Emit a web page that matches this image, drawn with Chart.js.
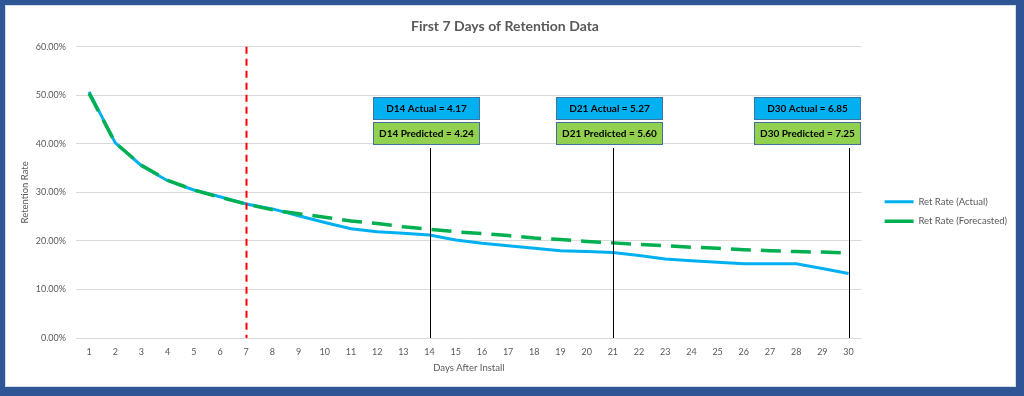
<!DOCTYPE html>
<html>
<head>
<meta charset="utf-8">
<script src="https://cdn.jsdelivr.net/npm/chart.js@4.4.1/dist/chart.umd.min.js"></script>
<style>
  html, body { margin: 0; padding: 0; }
  body { width: 1024px; height: 396px; background: #2F5597; position: relative; overflow: hidden; }
  #frame {
    position: absolute; left: 5px; top: 5px; width: 1011px; height: 382px;
    box-sizing: border-box; border: 1px solid #D6DCE5; background: #fff;
  }
  #myChart { display: block; }
</style>
</head>
<body>
<div id="frame"><canvas id="myChart" width="1009" height="380"></canvas></div>
<script>
// x axis: days after install
const days = Array.from({ length: 30 }, (_, i) => String(i + 1));

// retention in percent
const actualRate = [50.7, 40.2, 35.5, 32.4, 30.5, 29.1, 27.6, 26.6, 25.2, 23.8, 22.5, 21.9, 21.6, 21.2, 20.2, 19.5, 19.0, 18.5, 18.0, 17.8, 17.6, 17.0, 16.3, 15.9, 15.6, 15.3, 15.3, 15.3, 14.3, 13.3];
const forecastRate = [50.4, 40.2, 35.6, 32.5, 30.5, 29.0, 27.6, 26.4, 25.6, 24.9, 24.1, 23.6, 22.9, 22.4, 21.9, 21.5, 21.1, 20.6, 20.3, 19.9, 19.6, 19.3, 19.0, 18.7, 18.5, 18.2, 18.0, 17.8, 17.7, 17.5];

// y ticks
const yMax = 60;
const yStep = 10;

// markers
const cutoffDay = "7";
const markerDays = ["14", "21", "30"];
const actualNotes = ["D14 Actual = 4.17", "D21 Actual = 5.27", "D30 Actual = 6.85"];
const predictedNotes = ["D14 Predicted = 4.24", "D21 Predicted = 5.60", "D30 Predicted = 7.25"];

const FONT = "Lato, 'Open Sans', sans-serif";
const GREY = "#595959";

const markers = {
  id: "markers",
  afterLayout(chart) {
    // nudge legend to sit like the excel one (legend clips to its own box)
    const lg = chart.legend;
    lg.left += 13;
    lg.right += 13;
    lg.top += 31;
  },
  afterDatasetsDraw(chart) {
    const { ctx, chartArea } = chart;
    const x = chart.scales.x;
    const y = chart.scales.y;
    ctx.save();

    // cutoff line
    const cx = Math.round(x.getPixelForValue(days.indexOf(cutoffDay))) + 0.5;
    ctx.strokeStyle = "#FF0000";
    ctx.lineWidth = 2;
    ctx.setLineDash([7, 5]);
    ctx.beginPath();
    ctx.moveTo(cx, chartArea.top);
    ctx.lineTo(cx, chartArea.bottom);
    ctx.stroke();
    ctx.setLineDash([]);

    const boxW = 107, boxH = 23, gap = 2;
    const boxTop = Math.round(y.getPixelForValue(49.7));

    markerDays.forEach((d, i) => {
      const px = Math.round(x.getPixelForValue(days.indexOf(d))) + 0.5;
      let left = Math.round(px - 4 - boxW / 2);
      if (left + boxW > chartArea.right - 1) left = Math.round(chartArea.right - 1 - boxW);

      // drop line
      ctx.strokeStyle = "#000";
      ctx.lineWidth = 1;
      ctx.beginPath();
      ctx.moveTo(px, boxTop + 2 * boxH + gap + 3);
      ctx.lineTo(px, chartArea.bottom);
      ctx.stroke();

      const boxes = [
        [boxTop, "#00B0F0", actualNotes[i]],
        [boxTop + boxH + gap, "#92D050", predictedNotes[i]],
      ];
      boxes.forEach(([top, fill, txt]) => {
        ctx.fillStyle = fill;
        ctx.fillRect(left, top, boxW, boxH);
        ctx.strokeStyle = "#41719C";
        ctx.lineWidth = 1;
        ctx.strokeRect(left + 0.5, top + 0.5, boxW - 1, boxH - 1);
        ctx.fillStyle = "#000";
        ctx.font = "bold 10px " + FONT;
        ctx.textAlign = "center";
        ctx.textBaseline = "middle";
        ctx.fillText(txt, left + boxW / 2, top + boxH / 2 + 0.5);
      });
    });
    ctx.restore();
  },
};

const chart = new Chart(document.getElementById("myChart").getContext("2d"), {
  type: "line",
  data: {
    labels: days,
    datasets: [
      {
        label: "Ret Rate (Actual)",
        data: actualRate,
        borderColor: "#00B0F0",
        backgroundColor: "#00B0F0",
        borderWidth: 3,
        pointRadius: 0,
        tension: 0,
        order: 2,
      },
      {
        label: "Ret Rate (Forecasted)",
        data: forecastRate,
        borderColor: "#00B050",
        backgroundColor: "#00B050",
        borderWidth: 3.5,
        borderDash: [20, 10],
        pointRadius: 0,
        tension: 0,
        order: 1,
      },
    ],
  },
  options: {
    responsive: false,
    animation: false,
    layout: { padding: { left: 0, top: 0, bottom: 0, right: 11 } },
    plugins: {
      title: {
        display: true,
        text: "First 7 Days of Retention Data",
        color: GREY,
        font: { family: FONT, size: 14, weight: "bold" },
        padding: { top: 12, bottom: 12 },
      },
      legend: {
        position: "right",
        labels: {
          color: GREY,
          font: { family: FONT, size: 9.5 },
          usePointStyle: true,
          pointStyle: "line",
          pointStyleWidth: 29,
          padding: 10,
          sort: (a, b) => a.datasetIndex - b.datasetIndex,
        },
      },
      tooltip: { enabled: false },
    },
    scales: {
      x: {
        type: "category",
        offset: true,
        grid: { display: false },
        border: { display: false },
        ticks: { color: GREY, font: { family: FONT, size: 9 }, padding: 1, maxRotation: 0, autoSkip: false },
        title: {
          display: true,
          text: "Days After Install",
          color: GREY,
          font: { family: FONT, size: 9.5 },
          padding: { top: 0, bottom: 12 },
        },
        afterFit: (axis) => { axis.height = 48; },
      },
      y: {
        min: 0,
        max: yMax,
        grid: { color: "#D9D9D9", drawTicks: false },
        border: { display: false },
        ticks: {
          stepSize: yStep,
          color: GREY,
          font: { family: FONT, size: 9 },
          padding: 10,
          callback: (v) => v.toFixed(2) + "%",
        },
        title: {
          display: true,
          text: "Retention Rate",
          color: GREY,
          font: { family: FONT, size: 9.5 },
          padding: { top: 13, bottom: 0 },
        },
        afterFit: (axis) => { axis.width = 70; },
      },
    },
  },
  plugins: [markers],
});
</script>
</body>
</html>
